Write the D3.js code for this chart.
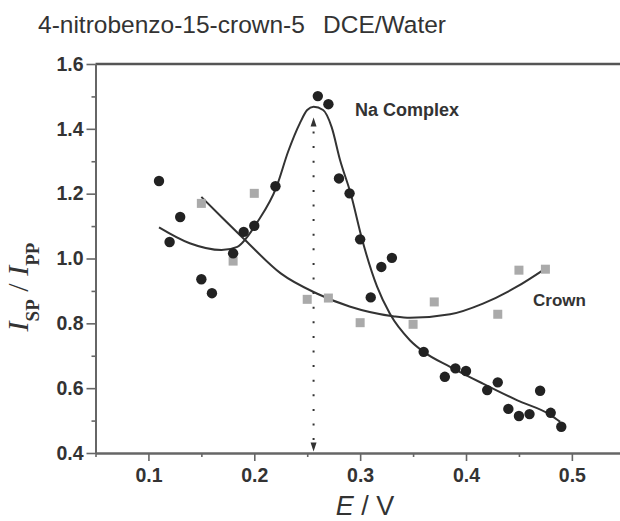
<!DOCTYPE html>
<html>
<head>
<meta charset="utf-8">
<script src="https://cdn.jsdelivr.net/npm/d3@7"></script>
<style>
  html, body { margin: 0; padding: 0; background: #fff; }
  svg { display: block; }
</style>
</head>
<body>
<svg id="chart" width="620" height="521"></svg>
<script>
// Na complex (black circles)
var naE = [0.11, 0.12, 0.13, 0.15, 0.16, 0.18, 0.19, 0.20, 0.22, 0.26, 0.27, 0.28, 0.29, 0.30, 0.31, 0.32, 0.33,
           0.36, 0.38, 0.39, 0.40, 0.42, 0.43, 0.44, 0.45, 0.46, 0.47, 0.48, 0.49];
var naR = [1.239, 1.051, 1.128, 0.936, 0.893, 1.016, 1.082, 1.101, 1.223, 1.501, 1.476, 1.247, 1.201, 1.059, 0.880, 0.974, 1.002,
           0.712, 0.635, 0.661, 0.653, 0.594, 0.618, 0.536, 0.514, 0.520, 0.592, 0.524, 0.481];
// free crown (grey squares)
var crownE = [0.15, 0.18, 0.20, 0.25, 0.27, 0.30, 0.35, 0.37, 0.43, 0.45, 0.475];
var crownR = [1.170, 0.992, 1.201, 0.874, 0.878, 0.802, 0.797, 0.866, 0.828, 0.964, 0.967];
// fitted curves
var naFitE = [0.110, 0.139, 0.169, 0.184, 0.193, 0.202, 0.221, 0.232, 0.243, 0.250, 0.256, 0.265, 0.273, 0.281,
              0.291, 0.302, 0.316, 0.328, 0.347, 0.360, 0.385, 0.416, 0.448, 0.480, 0.489];
var naFitR = [1.096, 1.047, 1.026, 1.036, 1.065, 1.108, 1.221, 1.330, 1.417, 1.458, 1.468, 1.458, 1.406, 1.304,
              1.201, 1.057, 0.913, 0.830, 0.748, 0.712, 0.666, 0.614, 0.563, 0.517, 0.496];
var crownFitE = [0.150, 0.170, 0.191, 0.225, 0.259, 0.290, 0.331, 0.347, 0.385, 0.416, 0.448, 0.475];
var crownFitR = [1.190, 1.125, 1.058, 0.954, 0.892, 0.852, 0.822, 0.817, 0.828, 0.861, 0.913, 0.969];
// peak marker
var peakE = 0.256, arrowTop = 1.435, arrowBottom = 0.405;

var xMajor = [0.1, 0.2, 0.3, 0.4, 0.5];
var xMinor = [0.05, 0.15, 0.25, 0.35, 0.45, 0.55];
var yMajor = [0.4, 0.6, 0.8, 1.0, 1.2, 1.4, 1.6];
var yMinor = [0.5, 0.7, 0.9, 1.1, 1.3, 1.5];

var svg = d3.select("#chart");
var sans = "'Liberation Sans', Arial, Helvetica, sans-serif";
var serif = "'Liberation Serif', 'Times New Roman', serif";

var x = d3.scaleLinear().domain([0.05, 0.55]).range([95.5, 624.8]);
var y = d3.scaleLinear().domain([0.4, 1.6]).range([453, 64]);

// title
svg.append("text").attr("x", 38).attr("y", 33).text("4-nitrobenzo-15-crown-5")
  .style("font-family", sans).style("font-size", "24.5px").attr("fill", "#333");
svg.append("text").attr("x", 323).attr("y", 33).text("DCE/Water")
  .style("font-family", sans).style("font-size", "24.5px").attr("fill", "#333");

// top frame
svg.append("line").attr("x1", x(0.05)).attr("x2", x(0.55)).attr("y1", y(1.6)).attr("y2", y(1.6))
  .attr("stroke", "#555").attr("stroke-width", 2.5);

function styleAxis(g) {
  g.select(".domain").attr("stroke", "#666").attr("stroke-width", 2);
  g.selectAll(".tick line").attr("stroke", "#666").attr("stroke-width", 1.6);
  g.selectAll(".tick text").attr("fill", "#333")
    .style("font-family", sans).style("font-size", "19.5px").style("font-weight", "bold");
}

var gx = svg.append("g").attr("transform", "translate(0," + y(0.4) + ")")
  .call(d3.axisBottom(x).tickValues(xMajor).tickSize(8).tickSizeOuter(0).tickPadding(7.5)
    .tickFormat(d3.format(".1f")));
styleAxis(gx);
var gxm = svg.append("g").attr("transform", "translate(0," + y(0.4) + ")")
  .call(d3.axisBottom(x).tickValues(xMinor).tickSize(4).tickSizeOuter(0).tickFormat(""));
styleAxis(gxm);

var gy = svg.append("g").attr("transform", "translate(" + x(0.05) + ",0)")
  .call(d3.axisLeft(y).tickValues(yMajor).tickSize(9).tickSizeOuter(0).tickPadding(3)
    .tickFormat(d3.format(".1f")));
styleAxis(gy);
var gym = svg.append("g").attr("transform", "translate(" + x(0.05) + ",0)")
  .call(d3.axisLeft(y).tickValues(yMinor).tickSize(4).tickSizeOuter(0).tickFormat(""));
styleAxis(gym);

// axis titles
var xt = svg.append("text").attr("x", 365).attr("y", 515).attr("text-anchor", "middle")
  .style("font-family", sans).style("font-size", "27px").attr("fill", "#333");
xt.append("tspan").style("font-style", "italic").text("E");
xt.append("tspan").text(" / V");

var yt = svg.append("text").attr("transform", "translate(28,287) rotate(-90)").attr("text-anchor", "middle")
  .style("font-family", serif).attr("fill", "#333");
yt.append("tspan").style("font-style", "italic").style("font-size", "30px").text("I");
yt.append("tspan").style("font-weight", "bold").style("font-size", "19px").attr("dy", 11).text("SP");
yt.append("tspan").style("font-size", "30px").attr("dy", -11).text(" / ");
yt.append("tspan").style("font-style", "italic").style("font-size", "30px").text("I");
yt.append("tspan").style("font-weight", "bold").style("font-size", "19px").attr("dy", 11).text("PP");

// fitted lines
var line = d3.line().x(function(d) { return x(d[0]); }).y(function(d) { return y(d[1]); })
  .curve(d3.curveMonotoneX);
svg.append("path").datum(d3.zip(crownFitE, crownFitR)).attr("d", line)
  .attr("fill", "none").attr("stroke", "#333").attr("stroke-width", 2);
svg.append("path").datum(d3.zip(naFitE, naFitR)).attr("d", line)
  .attr("fill", "none").attr("stroke", "#333").attr("stroke-width", 2);

// dotted arrow at peak
var px = x(peakE);
svg.append("line").attr("x1", px).attr("x2", px).attr("y1", y(arrowTop) + 14).attr("y2", y(arrowBottom) - 10)
  .attr("stroke", "#333").attr("stroke-width", 2).attr("stroke-dasharray", "2,12.6");
svg.append("path")
  .attr("d", "M" + px + "," + y(arrowTop) + "L" + (px - 3) + "," + (y(arrowTop) + 9) + "L" + (px + 3) + "," + (y(arrowTop) + 9) + "Z")
  .attr("fill", "#333");
svg.append("path")
  .attr("d", "M" + px + "," + y(arrowBottom) + "L" + (px - 3) + "," + (y(arrowBottom) - 9) + "L" + (px + 3) + "," + (y(arrowBottom) - 9) + "Z")
  .attr("fill", "#333");

// markers
svg.append("g").selectAll("rect").data(d3.zip(crownE, crownR)).enter().append("rect")
  .attr("x", function(d) { return x(d[0]) - 4.5; }).attr("y", function(d) { return y(d[1]) - 4.5; })
  .attr("width", 9).attr("height", 9).attr("fill", "#aaa");
svg.append("g").selectAll("circle").data(d3.zip(naE, naR)).enter().append("circle")
  .attr("cx", function(d) { return x(d[0]); }).attr("cy", function(d) { return y(d[1]); })
  .attr("r", 5.2).attr("fill", "#222");

// labels
svg.append("text").attr("x", 355).attr("y", 116).text("Na Complex")
  .style("font-family", sans).style("font-size", "18px").style("font-weight", "bold").attr("fill", "#333");
svg.append("text").attr("x", 533).attr("y", 306).text("Crown")
  .style("font-family", sans).style("font-size", "17px").style("font-weight", "bold").attr("fill", "#333");
</script>
</body>
</html>
